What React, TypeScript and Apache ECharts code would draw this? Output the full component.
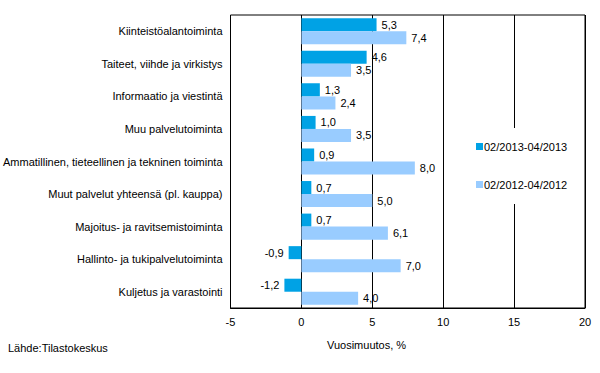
import React, { useEffect, useRef } from "react";
import * as echarts from "echarts";

const categories = [
  "Kiinteistöalantoiminta",
  "Taiteet, viihde ja virkistys",
  "Informaatio ja viestintä",
  "Muu palvelutoiminta",
  "Ammatillinen, tieteellinen ja tekninen toiminta",
  "Muut palvelut yhteensä (pl. kauppa)",
  "Majoitus- ja ravitsemistoiminta",
  "Hallinto- ja tukipalvelutoiminta",
  "Kuljetus ja varastointi",
];
const series2013 = [5.3, 4.6, 1.3, 1.0, 0.9, 0.7, 0.7, -0.9, -1.2];
const series2012 = [7.4, 3.5, 2.4, 3.5, 8.0, 5.0, 6.1, 7.0, 4.0];
const seriesNames = ["02/2013-04/2013", "02/2012-04/2012"];
const xTicks = { min: -5, max: 20, interval: 5 };

const FONT = "Liberation Sans, Arial, sans-serif";
const fmt = (v: number) => v.toFixed(1).replace(".", ",");

const mkData = (arr: number[]) =>
  arr.map((v) => ({
    value: v,
    label: { position: v < 0 ? "left" : "right" },
  }));

export default function App() {
  const ref = useRef<HTMLDivElement>(null);
  useEffect(() => {
    if (!ref.current) return;
    const chart = echarts.init(ref.current, undefined, { renderer: "svg" });
    const labelCommon = {
      show: true,
      distance: 5,
      color: "#000",
      fontSize: 11,
      fontFamily: FONT,
      formatter: (p: any) => fmt(p.value),
    };
    chart.setOption({
      animation: false,
      backgroundColor: "#fff",
      textStyle: { fontFamily: FONT },
      grid: {
        left: 228,
        right: 15,
        top: 15,
        bottom: 65,
        show: true,
        borderColor: "#000",
        borderWidth: 1,
        backgroundColor: "transparent",
      },
      legend: {
        orient: "vertical",
        left: 472,
        top: 128,
        itemWidth: 7,
        itemHeight: 7,
        itemGap: 27,
        padding: [13, 4, 14, 4],
        backgroundColor: "#fff",
        textStyle: { color: "#000", fontSize: 11, fontFamily: FONT, padding: [0, 0, 0, -4] },
        icon: "rect",
        data: seriesNames,
      },
      xAxis: {
        type: "value",
        min: xTicks.min,
        max: xTicks.max,
        interval: xTicks.interval,
        axisLine: { show: true, onZero: false, lineStyle: { color: "#000", width: 1 } },
        axisTick: { show: false },
        axisLabel: {
          color: "#000",
          fontSize: 11,
          fontFamily: FONT,
          margin: 8,
          formatter: (v: number) => String(v),
        },
        splitLine: { show: true, lineStyle: { color: "#000", width: 1 } },
      },
      yAxis: {
        type: "category",
        data: categories,
        inverse: true,
        axisLine: { show: false },
        axisTick: { show: false },
        axisLabel: {
          color: "#000",
          fontSize: 11,
          fontFamily: FONT,
          margin: 8,
        },
        splitLine: { show: false },
      },
      series: [
        {
          name: seriesNames[0],
          type: "bar",
          data: mkData(series2013),
          itemStyle: { color: "#00A2E5" },
          barGap: "0%",
          barCategoryGap: "20%",
          label: labelCommon,
        },
        {
          name: seriesNames[1],
          type: "bar",
          data: mkData(series2012),
          itemStyle: { color: "#99CCFF" },
          barGap: "0%",
          barCategoryGap: "20%",
          label: labelCommon,
        },
      ],
      graphic: [
        {
          type: "text",
          left: 327,
          top: 339,
          style: { text: "Vuosimuutos, %", fill: "#000", fontSize: 11, fontFamily: FONT },
        },
        {
          type: "text",
          left: 8,
          top: 342,
          style: { text: "Lähde:Tilastokeskus", fill: "#000", fontSize: 11, fontFamily: FONT },
        },
      ],
    });
    return () => chart.dispose();
  }, []);
  return (
    <div
      ref={ref}
      style={{ position: "fixed", left: 0, top: 0, width: 600, height: 373 }}
    />
  );
}
